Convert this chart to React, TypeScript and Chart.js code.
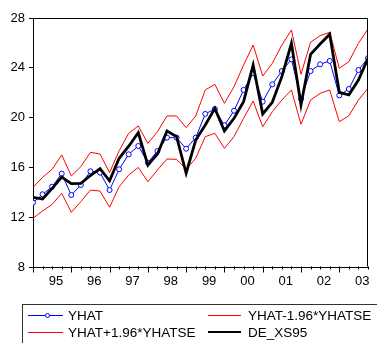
import React, { useEffect, useRef } from "react";
import { Chart, registerables } from "chart.js";

Chart.register(...registerables);

const yearLabels = ["95", "96", "97", "98", "99", "00", "01", "02", "03"];
const yTicks = [8, 12, 16, 20, 24, 28];

const yhat = [
  13.17, 13.84, 14.45, 15.5, 13.78, 14.59, 15.69, 15.58,
  14.18, 15.85, 17.05, 17.72, 16.38, 17.32, 18.39, 18.39,
  17.5, 18.39, 20.3, 20.69, 19.38, 20.55, 22.22, 23.56,
  21.28, 22.67, 23.74, 24.68, 21.5, 23.74, 24.28, 24.55,
  21.78, 22.3, 23.82, 24.78,
];
const yhatUpper = [
  14.4, 15.2, 15.85, 17.0, 15.31, 16.06, 17.21, 17.08,
  15.58, 17.34, 18.74, 19.33, 17.93, 18.87, 20.13, 20.13,
  19.19, 20.13, 22.22, 22.67, 21.15, 22.48, 24.22, 25.83,
  23.34, 24.36, 25.83, 27.04, 23.48, 26.05, 26.58, 26.85,
  23.96, 24.49, 25.97, 27.12,
];
const yhatLower = [
  11.91, 12.5, 13.03, 13.92, 12.39, 13.25, 14.18, 14.1,
  12.8, 14.45, 15.39, 16.0, 14.85, 15.79, 16.67, 16.65,
  15.85, 16.73, 18.47, 18.74, 17.53, 18.47, 19.94, 21.33,
  19.27, 20.47, 21.41, 22.22, 19.46, 21.41, 21.95, 22.22,
  19.67, 20.15, 21.41, 22.35,
];
const deXs95 = [
  13.6, 13.46, 14.32, 15.22, 14.7, 14.72, 15.35, 15.9,
  14.92, 16.73, 17.7, 18.79, 16.19, 17.08, 18.92, 18.47,
  15.53, 18.2, 19.4, 20.74, 18.92, 19.94, 21.28, 24.22,
  20.29, 21.23, 23.29, 25.97, 21.01, 25.08, 25.91, 26.69,
  22.03, 21.82, 23.02, 24.76,
];

const FONT = "'Liberation Sans', Arial, sans-serif";

const framePlugin = {
  id: "frameAndTicks",
  afterDraw(chart: any) {
    const { ctx, chartArea } = chart;
    const { left, top, right, bottom } = chartArea;
    const xs = chart.scales.x;
    ctx.save();
    ctx.strokeStyle = "#000";
    ctx.lineWidth = 1;
    ctx.beginPath();
    const L = Math.round(left) + 0.5;
    const T = Math.round(top) + 0.5;
    const R = Math.round(right) - 0.5;
    const B = Math.round(bottom) - 0.5;
    ctx.moveTo(L, T);
    ctx.lineTo(R, T);
    ctx.lineTo(R, B);
    ctx.stroke();
    ctx.beginPath();
    for (let i = 0; i < yhat.length; i++) {
      const x = Math.round(xs.getPixelForValue(i)) + 0.5;
      const len = i % 4 === 0 ? 6 : 3;
      ctx.moveTo(x, B);
      ctx.lineTo(x, B + len);
    }
    ctx.stroke();
    ctx.restore();
  },
};

export default function App() {
  const canvasRef = useRef<HTMLCanvasElement | null>(null);

  useEffect(() => {
    const canvas = canvasRef.current;
    if (!canvas) return;
    const idx = yhat.map((_, i) => i);
    const mk = (arr: number[]) => arr.map((v, i) => ({ x: idx[i], y: v }));
    const chart = new Chart(canvas, {
      type: "line",
      data: {
        datasets: [
          {
            label: "DE_XS95",
            data: mk(deXs95),
            borderColor: "#000000",
            borderWidth: 2.8,
            pointRadius: 0,
            tension: 0,
            order: 0,
          },
          {
            label: "YHAT",
            data: mk(yhat),
            borderColor: "#0000ff",
            borderWidth: 1,
            pointRadius: 2.5,
            pointBorderWidth: 1,
            pointBorderColor: "#0000ff",
            pointBackgroundColor: "#ffffff",
            tension: 0,
            order: 1,
          },
          {
            label: "YHAT-1.96*YHATSE",
            data: mk(yhatLower),
            borderColor: "#ff0000",
            borderWidth: 1,
            pointRadius: 0,
            tension: 0,
            order: 2,
          },
          {
            label: "YHAT+1.96*YHATSE",
            data: mk(yhatUpper),
            borderColor: "#ff0000",
            borderWidth: 1,
            pointRadius: 0,
            tension: 0,
            order: 3,
          },
        ],
      },
      options: {
        animation: false,
        responsive: false,
        devicePixelRatio: 1,
        layout: { padding: { left: 0, right: 9, top: 18, bottom: 56 } },
        plugins: {
          legend: { display: false },
          tooltip: { enabled: false },
          title: { display: false },
        },
        scales: {
          x: {
            type: "linear",
            min: 0,
            max: yhat.length - 1,
            afterBuildTicks: (axis: any) => {
              axis.ticks = yearLabels.map((_, k) => ({ value: 4 * k + 2.4 }));
            },
            afterFit: (axis: any) => {
              axis.height = 20;
            },
            ticks: {
              autoSkip: false,
              maxRotation: 0,
              padding: 7,
              color: "#000",
              font: { family: FONT, size: 13 },
              callback: (v: any) => yearLabels[Math.round((Number(v) - 2.4) / 4)] ?? "",
            },
            grid: { display: true, drawOnChartArea: false, drawTicks: false },
            border: { display: true, color: "#000", width: 1 },
          },
          y: {
            type: "linear",
            min: 8,
            max: 28,
            afterBuildTicks: (axis: any) => {
              axis.ticks = yTicks.map((v) => ({ value: v }));
            },
            afterFit: (axis: any) => {
              axis.width = 33;
            },
            ticks: {
              padding: 4,
              color: "#000",
              font: { family: FONT, size: 13 },
            },
            grid: {
              display: true,
              drawOnChartArea: false,
              drawTicks: true,
              tickLength: 4,
              color: "#000",
            },
            border: { display: true, color: "#000", width: 1 },
          },
        },
      },
      plugins: [framePlugin],
    });
    return () => chart.destroy();
  }, []);

  const textStyle = (left: number, top: number): React.CSSProperties => ({
    position: "absolute",
    left,
    top,
    fontFamily: FONT,
    fontSize: "13.5px",
    lineHeight: "15px",
    color: "#000",
    whiteSpace: "nowrap",
  });
  const lineStyle = (left: number, top: number, width: number, color: string, h: number): React.CSSProperties => ({
    position: "absolute",
    left,
    top: top - h / 2,
    width,
    height: h,
    background: color,
  });

  return (
    <div
      style={{
        position: "fixed",
        left: 0,
        top: 0,
        width: 377,
        height: 343,
        overflow: "hidden",
        background: "#fff",
      }}
    >
      <canvas ref={canvasRef} width={377} height={343} style={{ position: "absolute", left: 0, top: 0 }} />
      <div
        style={{
          position: "absolute",
          left: 22,
          top: 304,
          width: 380,
          height: 60,
          border: "1px solid #333",
          boxSizing: "border-box",
        }}
      />
      <div style={lineStyle(28, 315.5, 35, "#0000ff", 1)} />
      <div
        style={{
          position: "absolute",
          left: 45,
          top: 313,
          width: 5,
          height: 5,
          borderRadius: "50%",
          border: "1px solid #0000ff",
          background: "#fff",
          boxSizing: "border-box",
        }}
      />
      <div style={textStyle(68, 308)}>YHAT</div>
      <div style={lineStyle(208, 315.5, 33, "#ff0000", 1)} />
      <div style={textStyle(248, 308)}>YHAT-1.96*YHATSE</div>
      <div style={lineStyle(28, 332, 35, "#ff0000", 1)} />
      <div style={textStyle(68, 324.5)}>YHAT+1.96*YHATSE</div>
      <div style={lineStyle(208, 332, 33, "#000000", 2.5)} />
      <div style={textStyle(248, 324.5)}>DE_XS95</div>
    </div>
  );
}
